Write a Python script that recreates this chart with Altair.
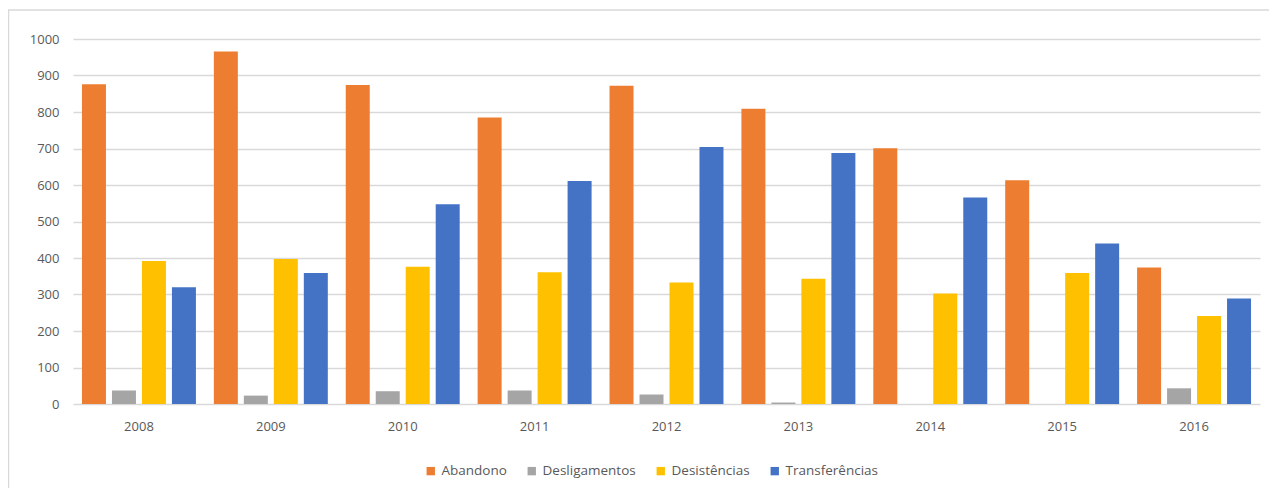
import altair as alt
import pandas as pd

years = ["2008", "2009", "2010", "2011", "2012", "2013", "2014", "2015", "2016"]
series = ["Abandono", "Desligamentos", "Desistências", "Transferências"]
abandono = [876, 966, 874, 785, 872, 809, 701, 613, 374]
desligamentos = [37, 23, 35, 37, 26, 4, 0, 0, 43]
desistencias = [392, 397, 376, 361, 333, 343, 303, 359, 241]
transferencias = [320, 359, 547, 611, 704, 688, 566, 440, 289]
colors = ["#ED7D31", "#A5A5A5", "#FFC000", "#4472C4"]
y_ticks = [0, 100, 200, 300, 400, 500, 600, 700, 800, 900, 1000]

rows = []
for name, vals in zip(series, [abandono, desligamentos, desistencias, transferencias]):
    for yr, v in zip(years, vals):
        rows.append({"Ano": yr, "Série": name, "Valor": v})
df = pd.DataFrame(rows)

FONT = "Open Sans"

bars = alt.Chart(df).mark_bar().encode(
    x=alt.X("Ano:N", sort=years, title=None,
            scale=alt.Scale(paddingInner=0.136, paddingOuter=0.068),
            axis=alt.Axis(labelAngle=0, ticks=False, domain=False, labelPadding=16,
                          labelColor="#595959", labelFont=FONT, labelFontSize=13)),
    xOffset=alt.XOffset("Série:N", sort=series,
                        scale=alt.Scale(paddingInner=0.2, paddingOuter=0)),
    y=alt.Y("Valor:Q", title=None,
            scale=alt.Scale(domain=[0, 1000], nice=False),
            axis=alt.Axis(values=y_ticks, format="d", ticks=False, domain=False,
                          labelPadding=14, grid=True, gridColor="#d9d9d9", gridWidth=1.4,
                          labelColor="#595959", labelFont=FONT, labelFontSize=13)),
    color=alt.Color("Série:N", sort=series, title=None,
                    scale=alt.Scale(domain=series, range=colors),
                    legend=alt.Legend(orient="none", legendX=351, legendY=425,
                                      direction="horizontal", symbolType="square",
                                      symbolSize=70, symbolStrokeWidth=0,
                                      labelFont=FONT, labelFontSize=13.5,
                                      labelColor="#595959", columnPadding=18,
                                      labelOffset=4)),
)

frame = alt.Chart(pd.DataFrame({"a": [0]})).mark_rect(
    filled=False, stroke="#d9d9d9", strokeWidth=1.5
).encode(
    x=alt.value(-64.5), x2=alt.value(1230),
    y=alt.value(-29), y2=alt.value(480),
)

chart = alt.layer(frame, bars).properties(
    width=1187, height=365,
    padding={"left": 65, "top": 31, "right": 9, "bottom": 84},
    autosize=alt.AutoSizeParams(type="none"),
    background="white",
).configure_view(strokeWidth=0)

chart.save("out.html", embed_options={"renderer": "svg", "actions": False})
